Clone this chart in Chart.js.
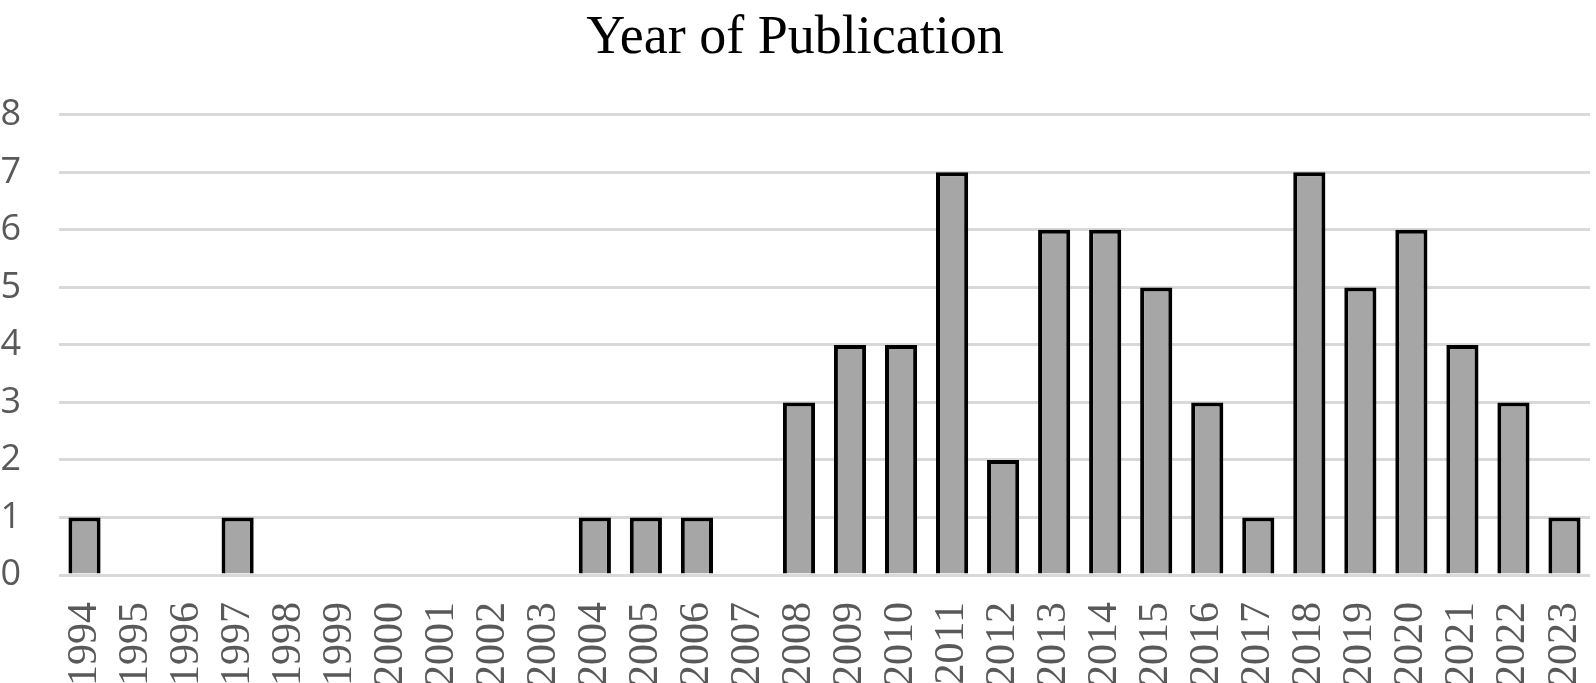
<!DOCTYPE html>
<html lang="en">
<head>
  <meta charset="UTF-8" />
  <title>Year of Publication</title>
  <script src="https://cdn.jsdelivr.net/npm/chart.js"></script>
  <style>
    html, body {
      margin: 0;
      padding: 0;
      background: #fff;
      overflow: hidden;
    }
    .chart-box {
      width: 1596px;
      height: 700px;
    }
  </style>
</head>
<body>
  <div class="chart-box">
    <canvas id="pubChart"></canvas>
  </div>

  <script>
    // Publication counts per year
    const years = ['1994', '1995', '1996', '1997', '1998', '1999', '2000', '2001', '2002', '2003',
                   '2004', '2005', '2006', '2007', '2008', '2009', '2010', '2011', '2012', '2013',
                   '2014', '2015', '2016', '2017', '2018', '2019', '2020', '2021', '2022', '2023'];
    const counts = [1, 0, 0, 1, 0, 0, 0, 0, 0, 0,
                    1, 1, 1, 0, 3, 4, 4, 7, 2, 6,
                    6, 5, 3, 1, 7, 5, 6, 4, 3, 1];
    const yTicks = [0, 1, 2, 3, 4, 5, 6, 7, 8];

    const ctx = document.getElementById('pubChart').getContext('2d');
    new Chart(ctx, {
      type: 'bar',
      data: {
        labels: years,
        datasets: [{
          label: 'Publications',
          data: counts,
          backgroundColor: '#a6a6a6',
          borderColor: '#000000',
          borderWidth: 4,
          categoryPercentage: 1.0,
          barPercentage: 0.63
        }]
      },
      options: {
        responsive: true,
        maintainAspectRatio: false,
        animation: false,
        layout: { padding: { left: 0, right: 6, top: 0, bottom: 0 } },
        plugins: {
          legend: { display: false },
          tooltip: { enabled: false },
          title: {
            display: true,
            text: 'Year of Publication',
            color: '#000000',
            font: { family: 'Liberation Serif', size: 54, weight: 'normal' },
            padding: { top: 6, bottom: 44 }
          }
        },
        scales: {
          x: {
            grid: { display: false },
            border: { display: false },
            ticks: {
              color: '#595959',
              font: { family: 'Liberation Serif', size: 42 },
              minRotation: 90,
              maxRotation: 90,
              autoSkip: false,
              padding: 19
            },
            afterFit: (axis) => {
              axis.height = 125;
              axis.paddingLeft = 0;
              axis.paddingRight = 0;
            }
          },
          y: {
            min: 0,
            max: 8,
            afterBuildTicks: (axis) => { axis.ticks = yTicks.map(v => ({ value: v })); },
            grid: { color: '#d9d9d9', lineWidth: 3, drawTicks: false },
            border: { display: false },
            ticks: {
              color: '#595959',
              font: { family: 'Open Sans', size: 36 },
              padding: 38
            },
            afterFit: (axis) => {
              axis.width = 59;
              axis.paddingTop = 0;
              axis.paddingBottom = 0;
            }
          }
        }
      }
    });
  </script>
</body>
</html>
